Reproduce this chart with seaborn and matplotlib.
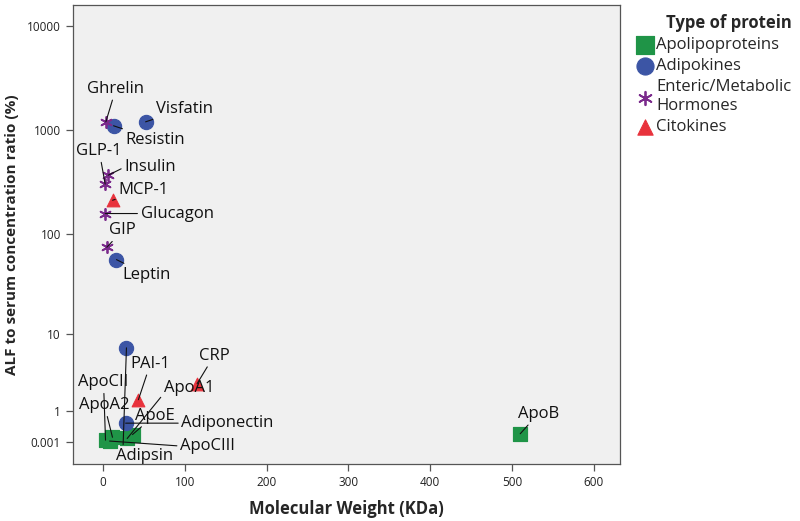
import matplotlib
matplotlib.use("Agg")
import matplotlib.pyplot as plt
import numpy as np
import pandas as pd
import seaborn as sns

# ---------------------------------------------------------------------------
# Data
# ---------------------------------------------------------------------------
proteins = [
    "ApoCII", "ApoA2", "ApoCIII", "ApoA1", "ApoE", "ApoB",
    "Resistin", "Visfatin", "Leptin", "Adipsin", "Adiponectin",
    "Ghrelin", "Insulin", "GLP-1", "Glucagon", "GIP",
    "MCP-1", "PAI-1", "CRP",
]
protein_type = (
    ["Apolipoproteins"] * 6
    + ["Adipokines"] * 5
    + ["Enteric/Metabolic Hormones"] * 5
    + ["Citokines"] * 3
)
weight_kda = [
    3.0, 11.5, 8.0, 29.5, 36.0, 510.0,
    12.8, 52.0, 16.4, 28.6, 27.6,
    3.4, 6.3, 2.6, 2.6, 4.6,
    11.6, 43.2, 115.0,
]
alf_ratio = [
    0.05, 0.12, 0.03, 0.09, 0.19, 0.21,
    1100, 1200, 56, 7.1, 0.53,
    1200, 368, 302, 157, 74,
    211, 1.57, 2.67,
]

type_order = ["Apolipoproteins", "Adipokines", "Enteric/Metabolic Hormones", "Citokines"]
legend_labels = ["Apolipoproteins", "Adipokines", "Enteric/Metabolic\nHormones", "Citokines"]

y_ticks = [0.001, 1, 10, 100, 1000, 10000]
y_tick_labels = ["0.001", "1", "10", "100", "1000", "10000"]
x_ticks = [0, 100, 200, 300, 400, 500, 600]

# ---------------------------------------------------------------------------
# Styling (kept apart from the data)
# ---------------------------------------------------------------------------
STYLE = {
    "Apolipoproteins": dict(marker="s", color="#1f9447", s=115),
    "Adipokines": dict(marker="o", color="#3c55a5", s=105),
    "Enteric/Metabolic Hormones": dict(marker=(6, 2, 0), color="#7b2b8c", s=65, linewidth=1.3),
    "Citokines": dict(marker="^", color="#e8323c", s=85),
}

# label offsets in pixels (text centre relative to the point), optional relpos
LABEL_OFFSETS = {
    "ApoCII": (-2, 58), "ApoA2": (-8, 32), "ApoCIII": (98, -5),
    "ApoA1": (62, 50), "ApoE": (22, 19), "ApoB": (18, 20),
    "Resistin": (42, -14), "Visfatin": (39, 13), "Leptin": (30, -15),
    "Adipsin": (18, -108), "Adiponectin": (102, 0),
    "Ghrelin": (10, 33), "Insulin": (42, 8), "GLP-1": (-6, 33),
    "Glucagon": (72, 0), "GIP": (16, 17),
    "MCP-1": (31, 10), "PAI-1": (12, 36), "CRP": (17, 28),
}
LABEL_RELPOS = {"Adipsin": (0.12, 0.5), "Glucagon": (0.0, 0.5), "Insulin": (0.0, 0.5),
                "Adiponectin": (0.0, 0.5), "ApoCIII": (0.0, 0.5), "ApoA1": (0.0, 0.2)}

sns.set_theme(style="white")
plt.rcParams["font.family"] = ["Open Sans", "DejaVu Sans"]

df = pd.DataFrame({
    "protein": proteins,
    "type": protein_type,
    "weight": weight_kda,
    "ratio": alf_ratio,
})

fig = plt.figure(figsize=(8, 5.21), dpi=100)
ax = fig.add_axes([0.091, 0.109, 0.684, 0.881])
ax.set_facecolor("#f0f0f0")

# SPSS-style axis: log10(value + 1)
ax.set_yscale("function", functions=(lambda v: np.log10(v + 1), lambda t: 10 ** t - 1))

for t in type_order:
    sub = df[df["type"] == t]
    kw = dict(STYLE[t])
    sns.scatterplot(data=sub, x="weight", y="ratio", label=t, ax=ax,
                    edgecolor=kw["color"] if t != "Enteric/Metabolic Hormones" else None,
                    zorder=3, **kw)

handles, _ = ax.get_legend_handles_labels()
if ax.get_legend() is not None:
    ax.get_legend().remove()

for _, row in df.iterrows():
    dx, dy = LABEL_OFFSETS[row["protein"]]
    ax.annotate(
        row["protein"], xy=(row["weight"], row["ratio"]),
        xytext=(dx, dy), textcoords="offset pixels",
        ha="center", va="center", fontsize=12, color="#111111",
        arrowprops=dict(arrowstyle="-", color="#111111", lw=0.8,
                        shrinkA=0, shrinkB=0,
                        relpos=LABEL_RELPOS.get(row["protein"], (0.5, 0.5))),
        zorder=4,
    )

ax.set_xlim(-37, 632)
ax.set_ylim(-0.383, 15850)
ax.set_xticks(x_ticks)
ax.set_yticks(y_ticks)
ax.set_yticklabels(y_tick_labels)
ax.minorticks_off()
ax.tick_params(axis="both", direction="out", length=5, width=0.9,
               color="#555555", labelsize=8.5, labelcolor="#222222",
               left=True, bottom=True)
for sp in ax.spines.values():
    sp.set_color("#555555")
    sp.set_linewidth(0.9)

ax.set_xlabel("Molecular Weight (KDa)", fontsize=12, fontweight="bold", labelpad=8)
ax.set_ylabel("ALF to serum concentration ratio (%)", fontsize=11, fontweight="bold", labelpad=6)

leg = fig.legend(handles, legend_labels, title="Type of protein",
                 loc="upper left", bbox_to_anchor=(0.785, 0.985),
                 frameon=False, fontsize=12, title_fontsize=12,
                 handletextpad=0.1, labelspacing=0.3, borderaxespad=0,
                 handlelength=1.2, markerscale=1.2)
leg.get_title().set_fontweight("bold")
leg._legend_box.align = "right"

fig.savefig("out.png", dpi=100)
